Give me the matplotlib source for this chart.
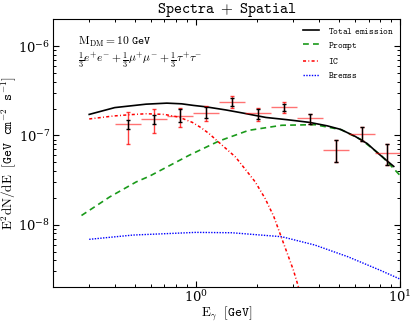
import numpy as np
import matplotlib
matplotlib.use("Agg")
import matplotlib.pyplot as plt

plt.rcParams['mathtext.fontset'] = 'cm'
plt.rcParams['font.family'] = 'serif'
plt.rcParams['font.serif'] = ['DejaVu Serif']
plt.rcParams['axes.formatter.use_mathtext'] = True

# curvas do modelo (E em GeV, E^2 dN/dE em GeV cm^-2 s^-1)
E_total = [0.30, 0.40, 0.57, 0.72, 0.85, 0.97, 1.12, 1.40, 1.70, 2.20, 2.80, 3.60, 4.40, 5.1, 6.0, 6.9, 7.8, 9.3]
F_total = [1.72e-7, 2.05e-7, 2.24e-7, 2.30e-7, 2.26e-7, 2.17e-7, 2.09e-7, 1.93e-7, 1.78e-7, 1.59e-7,
           1.50e-7, 1.40e-7, 1.28e-7, 1.17e-7, 9.8e-8, 8.1e-8, 6.3e-8, 4.5e-8]

E_prompt = [0.275, 0.378, 0.510, 0.592, 0.926, 1.295, 1.81, 2.63, 3.82, 5.14, 6.44, 8.05, 9.52, 9.95]
F_prompt = [1.27e-8, 2.05e-8, 3.02e-8, 3.5e-8, 6.0e-8, 8.65e-8, 1.14e-7, 1.30e-7, 1.32e-7, 1.16e-7,
            8.98e-8, 6.0e-8, 4.01e-8, 3.6e-8]

E_ic = [0.30, 0.393, 0.48, 0.570, 0.70, 0.828, 0.96, 1.06, 1.158, 1.344, 1.561, 1.81, 1.95, 2.18, 2.40, 2.63, 3.0, 3.2]
F_ic = [1.53e-7, 1.65e-7, 1.71e-7, 1.75e-7, 1.72e-7, 1.60e-7, 1.40e-7, 1.22e-7, 1.05e-7, 7.76e-8,
        5.74e-8, 3.75e-8, 3.02e-8, 1.97e-8, 1.25e-8, 7.05e-9, 3.1e-9, 1.9e-9]

E_brems = [0.30, 0.491, 1.0, 1.50, 2.63, 3.82, 5.54, 8.05, 10.0]
F_brems = [6.87e-9, 7.67e-9, 8.22e-9, 8.14e-9, 7.35e-9, 5.93e-9, 4.39e-9, 3.07e-9, 2.46e-9]

# pontos de dados
E_data = [0.465, 0.62, 0.835, 1.12, 1.50, 2.01, 2.70, 3.61, 4.84, 6.48, 8.66]
E_lo = [0.40, 0.54, 0.72, 0.97, 1.29, 1.74, 2.33, 3.12, 4.18, 5.6, 7.5]
E_hi = [0.54, 0.72, 0.97, 1.29, 1.74, 2.33, 3.12, 4.18, 5.6, 7.5, 10.0]
F_data = [1.34e-7, 1.52e-7, 1.66e-7, 1.80e-7, 2.39e-7, 1.78e-7, 2.09e-7, 1.55e-7, 6.9e-8, 1.05e-7, 6.4e-8]
F_sys_lo = [8.0e-8, 1.06e-7, 1.23e-7, 1.46e-7, 2.05e-7, 1.46e-7, 1.80e-7, 1.34e-7, 5.0e-8, 8.73e-8, 4.68e-8]
F_sys_hi = [1.85e-7, 1.97e-7, 2.05e-7, 2.14e-7, 2.77e-7, 2.05e-7, 2.38e-7, 1.76e-7, 8.96e-8, 1.23e-7, 8.0e-8]
F_stat_lo = [1.18e-7, 1.36e-7, 1.40e-7, 1.56e-7, 2.14e-7, 1.52e-7, 1.88e-7, 1.34e-7, 5.0e-8, 8.73e-8, 4.68e-8]
F_stat_hi = [1.50e-7, 1.69e-7, 1.97e-7, 2.09e-7, 2.65e-7, 2.00e-7, 2.24e-7, 1.76e-7, 8.96e-8, 1.23e-7, 8.0e-8]

x = np.array(E_data)
y = np.array(F_data)
xerr = [x - np.array(E_lo), np.array(E_hi) - x]
yerr_sys = [y - np.array(F_sys_lo), np.array(F_sys_hi) - y]
yerr_stat = [y - np.array(F_stat_lo), np.array(F_stat_hi) - y]

fig = plt.figure(figsize=(4.16, 3.26), dpi=100)
ax = fig.add_axes([0.128, 0.119, 0.834, 0.822])

ax.plot(E_total, F_total, color='black', lw=1.2, label=r'$\mathtt{Total\ emission}$', zorder=5)
ax.plot(E_prompt, F_prompt, color='#1a9a1a', lw=1.2, ls=(0, (3.5, 2.5)), label=r'$\mathtt{Prompt}$', zorder=4)
ax.plot(E_ic, F_ic, color='red', lw=1.1, ls=(0, (2, 1.5, 0.6, 1.5)), label=r'$\mathtt{IC}$', zorder=4)
ax.plot(E_brems, F_brems, color='blue', lw=1.0, ls=(0, (1, 1)), label=r'$\mathtt{Bremss}$', zorder=4)

ax.errorbar(x, y, xerr=xerr, fmt='none', ecolor='red', elinewidth=1.0, alpha=0.55, capsize=0, zorder=6)
ax.errorbar(x, y, yerr=yerr_sys, fmt='none', ecolor='red', elinewidth=1.0, alpha=0.75,
            capsize=1.3, capthick=1.0, zorder=6)
ax.errorbar(x, y, yerr=yerr_stat, fmt='none', ecolor='black', elinewidth=1.0,
            capsize=1.3, capthick=1.0, zorder=7)

ax.set_xscale('log')
ax.set_yscale('log')
ax.set_xlim(0.2, 10)
ax.set_ylim(2e-9, 2e-6)

ax.tick_params(which='both', direction='in', top=True, right=True, labelsize=9.5)
ax.tick_params(axis='x', pad=1.5)
ax.tick_params(axis='y', pad=2)
ax.tick_params(which='major', length=4, width=0.8)
ax.tick_params(which='minor', length=2.2, width=0.7)

ax.set_xlabel(r'$\mathrm{E}_\gamma\ \ \mathtt{[GeV]}$', fontsize=9.5, labelpad=0)
ax.set_ylabel(r'$\mathrm{E^2dN/dE}\ \ \mathtt{[GeV\ \ cm^{-2}\ \ s^{-1}]}$', fontsize=9.5, labelpad=0)
ax.set_title(r'$\mathtt{Spectra}\ +\ \mathtt{Spatial}$', fontsize=11, pad=2)

ax.text(0.07, 0.905, r'$\mathrm{M_{DM}} = 10\ \mathtt{GeV}$', transform=ax.transAxes, fontsize=8.3)
ax.text(0.07, 0.84, r'$\frac{1}{3}e^{+}e^{-} + \frac{1}{3}\mu^{+}\mu^{-} + \frac{1}{3}\tau^{+}\tau^{-}$',
        transform=ax.transAxes, fontsize=8.3)

ax.legend(loc='upper right', frameon=False, fontsize=6.5, handlelength=1.7, handletextpad=1.0,
          labelspacing=0.45, borderaxespad=0.3)

fig.savefig('out.png', dpi=100)
